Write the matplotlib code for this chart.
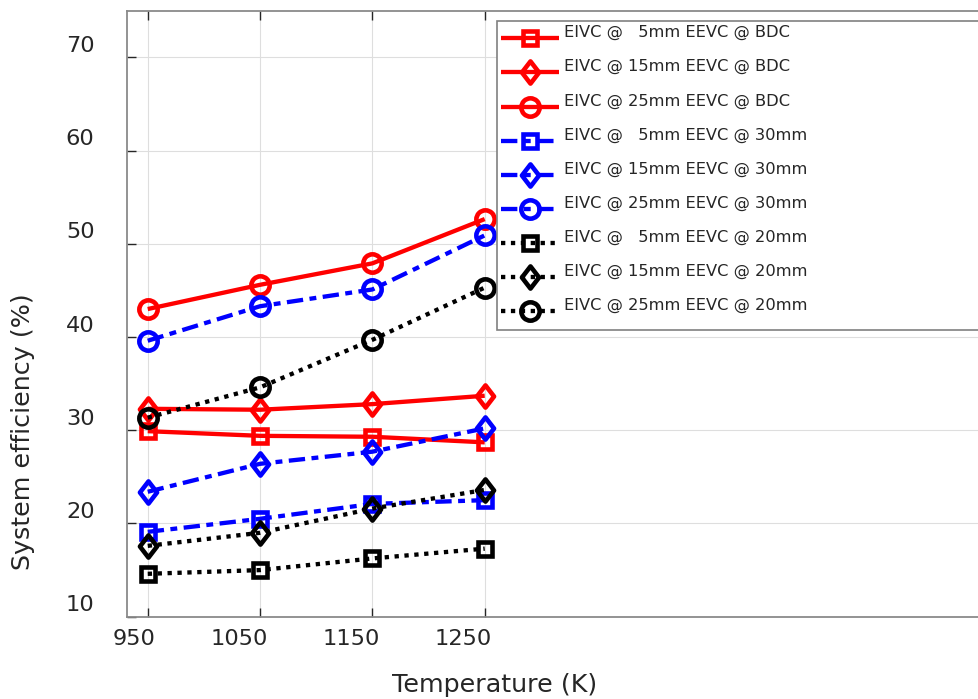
import numpy as np
import matplotlib
matplotlib.use("Agg")
import matplotlib.pyplot as plt
from matplotlib.path import Path
from matplotlib.patches import Rectangle
from matplotlib.transforms import ScaledTranslation, IdentityTransform
from matplotlib.legend_handler import HandlerLine2D

# ---- data -------------------------------------------------------------
temperature = [950, 1050, 1150, 1250]

bdc_5mm = [29.9, 29.4, 29.3, 28.7]
bdc_15mm = [32.3, 32.2, 32.8, 33.7]
bdc_25mm = [43.0, 45.6, 47.9, 52.65]

eevc30_5mm = [19.1, 20.5, 22.1, 22.5]
eevc30_15mm = [23.4, 26.4, 27.7, 30.2]
eevc30_25mm = [39.6, 43.3, 45.1, 50.9]

eevc20_5mm = [14.6, 15.0, 16.25, 17.3]
eevc20_15mm = [17.6, 19.0, 21.6, 23.6]
eevc20_25mm = [31.35, 34.6, 39.7, 45.3]

series_labels = [
    "EIVC @   5mm EEVC @ BDC",
    "EIVC @ 15mm EEVC @ BDC",
    "EIVC @ 25mm EEVC @ BDC",
    "EIVC @   5mm EEVC @ 30mm",
    "EIVC @ 15mm EEVC @ 30mm",
    "EIVC @ 25mm EEVC @ 30mm",
    "EIVC @   5mm EEVC @ 20mm",
    "EIVC @ 15mm EEVC @ 20mm",
    "EIVC @ 25mm EEVC @ 20mm",
]
series_values = [bdc_5mm, bdc_15mm, bdc_25mm,
                 eevc30_5mm, eevc30_15mm, eevc30_25mm,
                 eevc20_5mm, eevc20_15mm, eevc20_25mm]

x_ticks = [950, 1050, 1150, 1250]
y_ticks = [10, 20, 30, 40, 50, 60, 70]

# ---- styling ----------------------------------------------------------
plt.rcParams["font.family"] = ["DejaVu Sans"]
text_color = "#262626"

LW = 3.1
MEW = 3.3
diamond = Path([(0, 1), (0.77, 0), (0, -1), (-0.77, 0), (0, 1)],
               [Path.MOVETO, Path.LINETO, Path.LINETO, Path.LINETO, Path.CLOSEPOLY])
marker_specs = [("s", 9.6), (diamond, 16.0), ("o", 13.2)]
group_styles = [
    ("#ff0000", "-"),
    ("#0000ff", (0, (3.8, 1.5, 1.6, 1.5))),
    ("#000000", (0, (1.0, 1.3))),
]

fig = plt.figure(figsize=(9.79, 6.99), dpi=100)
W, H = 979, 699
ax = fig.add_axes([126.5 / W, (H - 616.7) / H, (1150 - 126.5) / W, 606 / H])

for i, (vals, lab) in enumerate(zip(series_values, series_labels)):
    color, ls = group_styles[i // 3]
    mk, ms = marker_specs[i % 3]
    ax.plot(temperature, vals, color=color, linestyle=ls, linewidth=LW,
            marker=mk, markersize=ms, markeredgewidth=MEW,
            markerfacecolor="none", markeredgecolor=color,
            solid_capstyle="butt", dash_capstyle="butt", label=lab,
            clip_on=False)

ax.set_xlim(931.1, 1842.3)
ax.set_ylim(10, 75)
ax.set_xticks(x_ticks)
ax.set_yticks(y_ticks)
ax.set_xticklabels([str(v) for v in x_ticks])
ax.set_yticklabels([str(v) for v in y_ticks])

ax.grid(True, color="#dedede", linewidth=0.8)
ax.set_axisbelow(True)
for side in ("left", "top", "bottom", "right"):
    ax.spines[side].set_color("#8a8a8a")
    ax.spines[side].set_linewidth(1.3)

ax.tick_params(axis="both", direction="in", length=6.5, width=1.0,
               colors=text_color, labelsize=16.2, top=True, right=True)
ax.tick_params(axis="y", pad=23.0)
ax.tick_params(axis="x", pad=8.6)

# tick label placement: y labels sit above their ticks, x labels end just right of them
for lbl in ax.get_yticklabels():
    lbl.set_transform(lbl.get_transform() +
                      ScaledTranslation(0, 13.5 / 100, fig.dpi_scale_trans))
for lbl in ax.get_xticklabels():
    lbl.set_horizontalalignment("right")
    lbl.set_transform(lbl.get_transform() +
                      ScaledTranslation(7.5 / 100, 0, fig.dpi_scale_trans))

ax.set_xlabel("Temperature (K)", fontsize=18.3, color=text_color)
ax.set_ylabel("System efficiency (%)", fontsize=18.3, color=text_color)
ax.xaxis.label.set_va("baseline")
ax.yaxis.label.set_va("baseline")
ax.xaxis.set_label_coords(495 / W, 1 - 691.7 / H, transform=fig.transFigure)
ax.yaxis.set_label_coords(30 / W, 1 - 431.5 / H, transform=fig.transFigure)


class LoweredLine(HandlerLine2D):
    """Legend line handler that sits the sample a little below the text."""
    def create_artists(self, legend, orig_handle, xdescent, ydescent,
                       width, height, fontsize, trans):
        arts = super().create_artists(legend, orig_handle, xdescent, ydescent,
                                      width, height, fontsize, trans)
        for a in arts:
            a.set_ydata(np.asarray(a.get_ydata(), dtype=float) - 5.0)
        return arts


handles, labs = ax.get_legend_handles_labels()
leg = ax.legend(handles, labs, loc="upper left", mode="expand",
                bbox_to_anchor=(497 / W, 0.0, (1150 - 497) / W, 1 - 21 / H),
                bbox_transform=fig.transFigure, borderaxespad=0,
                fontsize=11.7, handlelength=3.55, handletextpad=0.3,
                labelspacing=1.165, borderpad=0.25, frameon=False,
                numpoints=1, handler_map={h: LoweredLine() for h in handles})
for t in leg.get_texts():
    t.set_color(text_color)

# legend box: white panel with a roomier bottom margin under the last entry
fig.canvas.draw()
bb = leg.get_window_extent()
bottom_margin = 9.0 * fig.dpi / 72.0
ax.add_artist(Rectangle((bb.x0, bb.y0 - bottom_margin), bb.width, bb.height + bottom_margin,
                        transform=IdentityTransform(), facecolor="white",
                        edgecolor="#808080", linewidth=1.2, zorder=4.9, clip_on=False))

fig.savefig("out.png", dpi=100)
